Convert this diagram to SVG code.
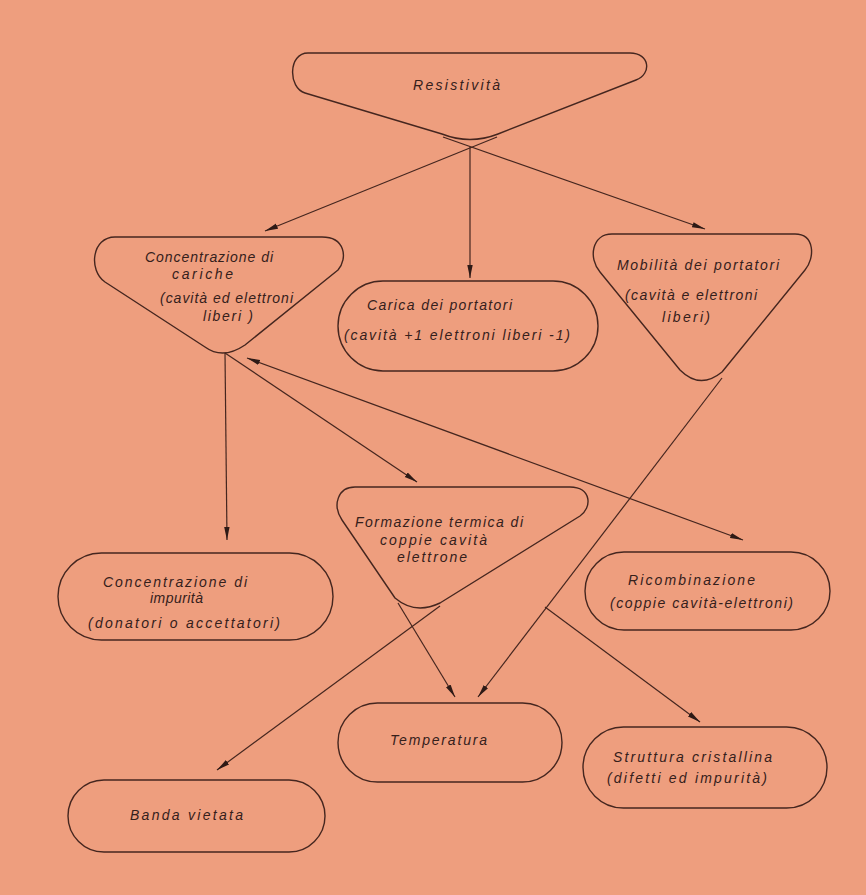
<svg xmlns="http://www.w3.org/2000/svg" width="866" height="895" viewBox="0 0 866 895">
<defs>
<style>
.bg{fill:#EE9E7E}
.n{fill:none;stroke:#45261f;stroke-width:1.4;stroke-linejoin:round}
.c{fill:none;stroke:#45261f;stroke-width:1.2}
.t{font-family:"Liberation Sans",Arial,sans-serif;font-style:italic;font-size:14px;fill:#35201b}
</style>
<marker id="ah" viewBox="0 0 13 7" refX="13" refY="3.5" markerWidth="13" markerHeight="7" markerUnits="userSpaceOnUse" orient="auto-start-reverse">
<path d="M0,0.8 L13,3.5 L0,6.2 Z" fill="#2e1a16"/>
</marker>
</defs>
<rect class="bg" x="0" y="0" width="866" height="895"/>

<g id="connectors">
<line class="c" x1="497" y1="137" x2="265" y2="231" marker-end="url(#ah)"/>
<line class="c" x1="470" y1="147" x2="470" y2="278" marker-end="url(#ah)"/>
<line class="c" x1="443" y1="137" x2="705" y2="229" marker-end="url(#ah)"/>
<line class="c" x1="225" y1="353" x2="227" y2="540" marker-end="url(#ah)"/>
<line class="c" x1="225" y1="353" x2="417" y2="482" marker-end="url(#ah)"/>
<line class="c" x1="247" y1="358" x2="743" y2="540" marker-start="url(#ah)" marker-end="url(#ah)"/>
<line class="c" x1="722" y1="378" x2="478" y2="697" marker-end="url(#ah)"/>
<line class="c" x1="440" y1="606" x2="217" y2="770" marker-end="url(#ah)"/>
<line class="c" x1="398" y1="603" x2="455" y2="697" marker-end="url(#ah)"/>
<line class="c" x1="545" y1="607" x2="700" y2="722" marker-end="url(#ah)"/>
</g>

<g id="resistivita">
<path class="n" d="M308,53 L630,53 C650,53 652,74 636,80 L498,134 Q470,145 442,134 L305,93 C288,88 288,53 308,53 Z"/>
<text class="t" x="413" y="90" textLength="87" lengthAdjust="spacing">Resistività</text>
</g>

<g id="concentrazione-cariche">
<path class="n" d="M115,237 L322,237 C345,237 348,258 338,270 L245,345 Q223,360 205,347 L105,282 C88,270 92,237 115,237 Z"/>
<text class="t" x="145" y="262" textLength="128" lengthAdjust="spacing">Concentrazione di</text>
<text class="t" x="172" y="279" textLength="61" lengthAdjust="spacing">cariche</text>
<text class="t" x="160" y="303" textLength="133" lengthAdjust="spacing">(cavità ed elettroni</text>
<text class="t" x="203" y="321" textLength="50" lengthAdjust="spacing">liberi )</text>
</g>

<g id="carica-portatori">
<rect class="n" x="338" y="281" width="260" height="90" rx="45"/>
<text class="t" x="367" y="310" textLength="145" lengthAdjust="spacing">Carica dei portatori</text>
<text class="t" x="344" y="340" textLength="226" lengthAdjust="spacing">(cavità +1 elettroni liberi -1)</text>
</g>

<g id="mobilita">
<path class="n" d="M612,234 L795,234 C815,234 815,258 805,270 L722,372 Q700,390 680,370 L600,272 C588,258 592,234 612,234 Z"/>
<text class="t" x="617" y="270" textLength="162" lengthAdjust="spacing">Mobilità dei portatori</text>
<text class="t" x="625" y="300" textLength="132" lengthAdjust="spacing">(cavità e elettroni</text>
<text class="t" x="662" y="322" textLength="48" lengthAdjust="spacing">liberi)</text>
</g>

<g id="formazione-termica">
<path class="n" d="M355,487 L570,487 C592,487 592,508 580,516 L440,603 Q415,615 395,598 L342,520 C332,505 338,487 355,487 Z"/>
<text class="t" x="355" y="527" textLength="168" lengthAdjust="spacing">Formazione termica di</text>
<text class="t" x="380" y="545" textLength="107" lengthAdjust="spacing">coppie cavità</text>
<text class="t" x="397" y="562" textLength="70" lengthAdjust="spacing">elettrone</text>
</g>

<g id="concentrazione-impurita">
<rect class="n" x="58" y="553" width="275" height="87" rx="43.5"/>
<text class="t" x="103" y="587" textLength="144" lengthAdjust="spacing">Concentrazione di</text>
<text class="t" x="150" y="603" textLength="53" lengthAdjust="spacing">impurità</text>
<text class="t" x="88" y="628" textLength="192" lengthAdjust="spacing">(donatori o accettatori)</text>
</g>

<g id="ricombinazione">
<rect class="n" x="585" y="552" width="245" height="78" rx="39"/>
<text class="t" x="628" y="585" textLength="127" lengthAdjust="spacing">Ricombinazione</text>
<text class="t" x="610" y="608" textLength="183" lengthAdjust="spacing">(coppie cavità-elettroni)</text>
</g>

<g id="temperatura">
<rect class="n" x="338" y="703" width="224" height="79" rx="39.5"/>
<text class="t" x="390" y="745" textLength="97" lengthAdjust="spacing">Temperatura</text>
</g>

<g id="struttura-cristallina">
<rect class="n" x="583" y="727" width="244" height="81" rx="40.5"/>
<text class="t" x="613" y="762" textLength="159" lengthAdjust="spacing">Struttura cristallina</text>
<text class="t" x="607" y="783" textLength="160" lengthAdjust="spacing">(difetti ed impurità)</text>
</g>

<g id="banda-vietata">
<rect class="n" x="68" y="780" width="257" height="72" rx="36"/>
<text class="t" x="130" y="820" textLength="113" lengthAdjust="spacing">Banda vietata</text>
</g>
</svg>
